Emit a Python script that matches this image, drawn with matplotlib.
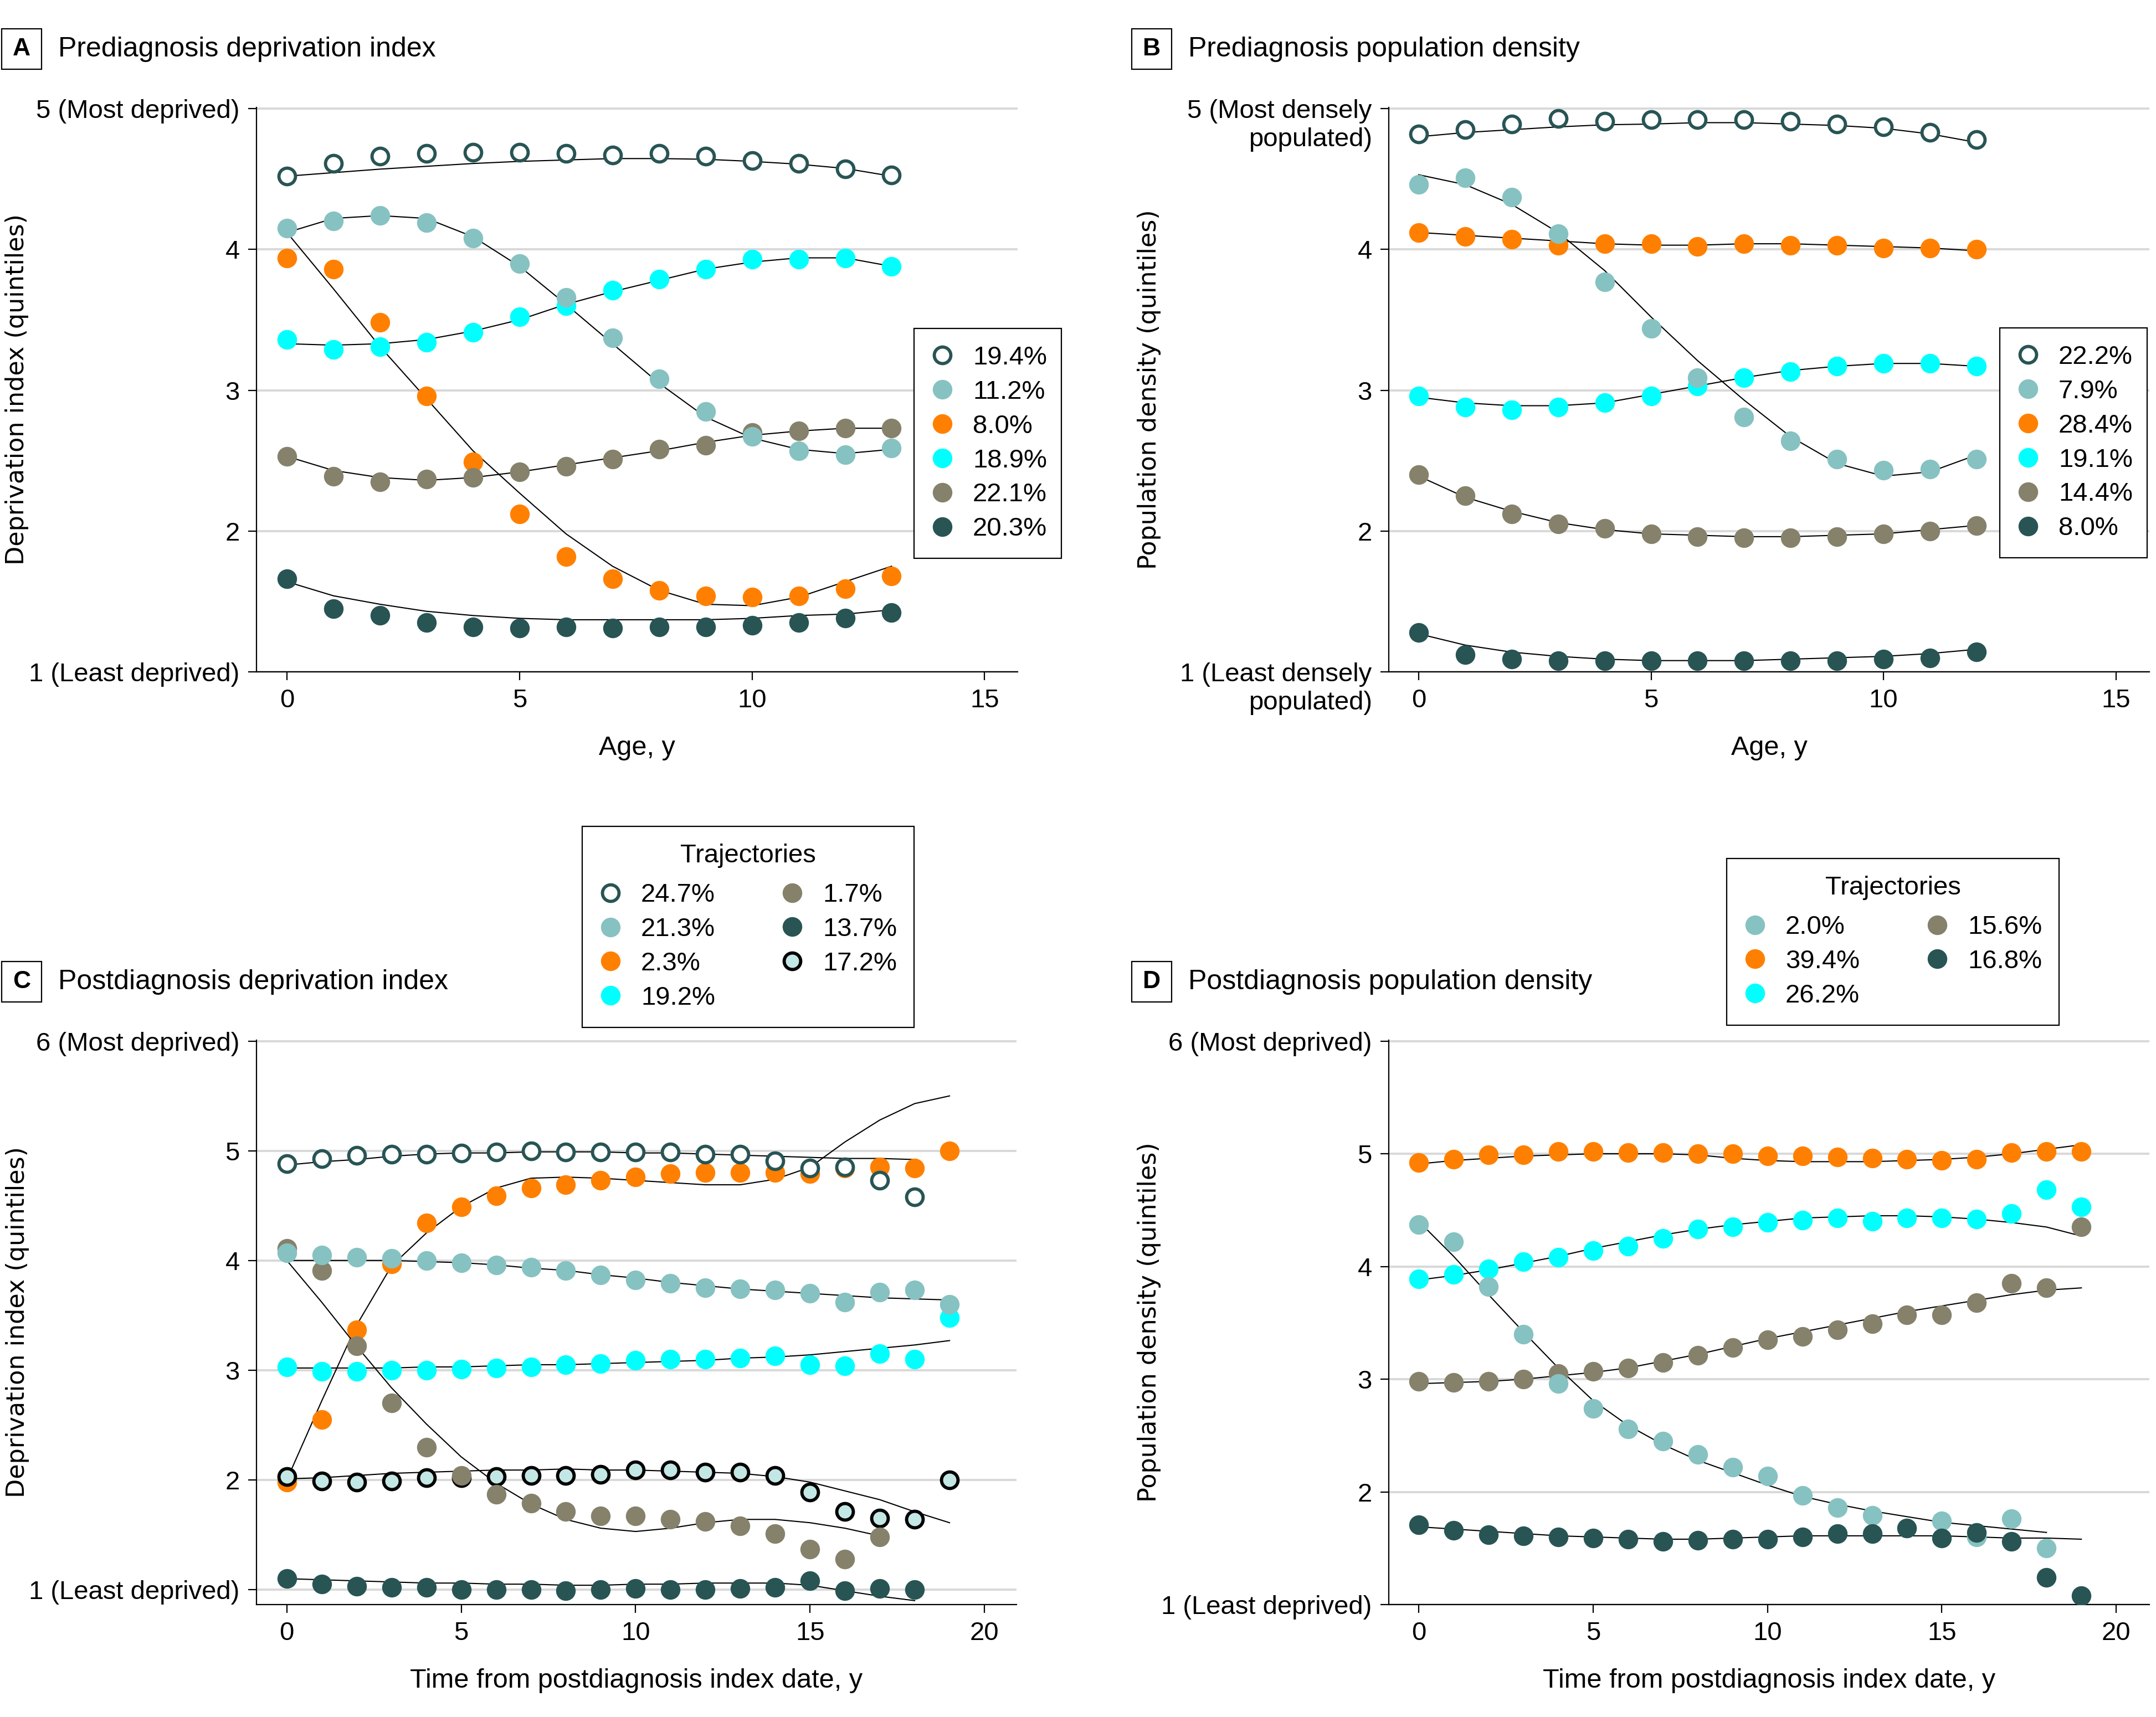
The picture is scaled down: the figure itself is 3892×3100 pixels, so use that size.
import matplotlib
matplotlib.use("Agg")
import matplotlib.pyplot as plt
from matplotlib.patches import Rectangle

# ---------------- data ----------------
A_YEARS = [0, 1, 2, 3, 4, 5, 6, 7, 8, 9, 10, 11, 12, 13]
a_obs_194 = [4.52, 4.61, 4.66, 4.68, 4.69, 4.69, 4.68, 4.67, 4.68, 4.66, 4.63, 4.61, 4.57, 4.53]
a_fit_194 = [4.52, 4.545, 4.57, 4.59, 4.61, 4.625, 4.635, 4.645, 4.645, 4.64, 4.625, 4.605, 4.575, 4.52]
a_obs_112 = [4.15, 4.20, 4.24, 4.19, 4.08, 3.90, 3.66, 3.37, 3.08, 2.85, 2.67, 2.57, 2.54, 2.59]
a_fit_112 = [4.12, 4.22, 4.24, 4.22, 4.09, 3.88, 3.61, 3.33, 3.05, 2.81, 2.66, 2.58, 2.55, 2.58]
a_obs_80 = [3.94, 3.86, 3.48, 2.96, 2.49, 2.12, 1.82, 1.66, 1.58, 1.54, 1.53, 1.54, 1.59, 1.68]
a_fit_80 = [4.12, 3.72, 3.31, 2.94, 2.57, 2.27, 1.98, 1.75, 1.58, 1.48, 1.47, 1.53, 1.64, 1.75]
a_obs_189 = [3.36, 3.29, 3.31, 3.34, 3.41, 3.52, 3.60, 3.71, 3.79, 3.86, 3.93, 3.93, 3.94, 3.88]
a_fit_189 = [3.33, 3.32, 3.33, 3.36, 3.42, 3.50, 3.61, 3.70, 3.78, 3.86, 3.91, 3.94, 3.94, 3.88]
a_obs_221 = [2.53, 2.39, 2.35, 2.37, 2.38, 2.42, 2.46, 2.51, 2.58, 2.61, 2.70, 2.71, 2.73, 2.73]
a_fit_221 = [2.53, 2.43, 2.38, 2.36, 2.38, 2.42, 2.47, 2.52, 2.57, 2.63, 2.68, 2.71, 2.73, 2.73]
a_obs_203 = [1.66, 1.45, 1.40, 1.35, 1.32, 1.31, 1.32, 1.31, 1.32, 1.32, 1.33, 1.35, 1.38, 1.42]
a_fit_203 = [1.64, 1.54, 1.48, 1.43, 1.40, 1.38, 1.37, 1.37, 1.37, 1.37, 1.38, 1.40, 1.41, 1.44]

B_YEARS = [0, 1, 2, 3, 4, 5, 6, 7, 8, 9, 10, 11, 12]
b_obs_222 = [4.82, 4.85, 4.89, 4.93, 4.91, 4.92, 4.92, 4.92, 4.91, 4.89, 4.87, 4.83, 4.78]
b_fit_222 = [4.80, 4.83, 4.85, 4.87, 4.885, 4.89, 4.90, 4.90, 4.89, 4.88, 4.86, 4.82, 4.76]
b_obs_79 = [4.46, 4.51, 4.37, 4.11, 3.77, 3.44, 3.09, 2.81, 2.64, 2.51, 2.43, 2.44, 2.51]
b_fit_79 = [4.53, 4.46, 4.32, 4.12, 3.85, 3.52, 3.21, 2.93, 2.67, 2.48, 2.39, 2.42, 2.54]
b_obs_284 = [4.12, 4.09, 4.07, 4.03, 4.04, 4.04, 4.02, 4.04, 4.03, 4.03, 4.01, 4.01, 4.00]
b_fit_284 = [4.12, 4.10, 4.08, 4.06, 4.04, 4.03, 4.03, 4.04, 4.04, 4.03, 4.02, 4.01, 3.99]
b_obs_191 = [2.96, 2.88, 2.86, 2.88, 2.91, 2.96, 3.03, 3.09, 3.13, 3.17, 3.19, 3.19, 3.17]
b_fit_191 = [2.95, 2.91, 2.89, 2.89, 2.91, 2.97, 3.03, 3.09, 3.14, 3.17, 3.19, 3.19, 3.17]
b_obs_144 = [2.40, 2.25, 2.12, 2.05, 2.02, 1.98, 1.96, 1.95, 1.95, 1.96, 1.98, 2.00, 2.04]
b_fit_144 = [2.39, 2.24, 2.14, 2.06, 2.01, 1.98, 1.97, 1.96, 1.96, 1.97, 1.98, 2.01, 2.04]
b_obs_80 = [1.28, 1.12, 1.09, 1.08, 1.08, 1.08, 1.08, 1.08, 1.08, 1.08, 1.09, 1.10, 1.14]
b_fit_80 = [1.27, 1.19, 1.14, 1.11, 1.09, 1.08, 1.08, 1.08, 1.09, 1.10, 1.11, 1.13, 1.16]

C_YEARS = [0, 1, 2, 3, 4, 5, 6, 7, 8, 9, 10, 11, 12, 13, 14, 15, 16, 17, 18, 19]
c_obs_247 = [4.88, 4.93, 4.96, 4.97, 4.97, 4.98, 4.99, 5.00, 4.99, 4.99, 4.99, 4.99, 4.97, 4.97,
             4.91, 4.84, 4.85, 4.73, 4.58]
c_fit_247 = [4.87, 4.90, 4.92, 4.95, 4.97, 4.98, 4.98, 4.99, 4.99, 4.99, 4.98, 4.98, 4.97, 4.96,
             4.95, 4.94, 4.93, 4.93, 4.92]
c_obs_213 = [4.07, 4.05, 4.03, 4.02, 4.00, 3.98, 3.96, 3.94, 3.91, 3.87, 3.82, 3.79, 3.75, 3.74,
             3.73, 3.70, 3.62, 3.71, 3.73, 3.60]
c_fit_213 = [4.00, 4.00, 4.00, 4.00, 3.99, 3.98, 3.96, 3.93, 3.91, 3.87, 3.84, 3.80, 3.77, 3.74,
             3.72, 3.70, 3.68, 3.66, 3.65, 3.64]
c_obs_23 = [1.98, 2.55, 3.37, 3.97, 4.34, 4.49, 4.59, 4.66, 4.69, 4.73, 4.76, 4.79, 4.80, 4.80,
            4.80, 4.79, 4.84, 4.85, 4.84, 5.00]
c_fit_23 = [2.00, 2.72, 3.41, 3.95, 4.25, 4.49, 4.66, 4.75, 4.76, 4.75, 4.73, 4.71, 4.69, 4.69,
            4.74, 4.85, 5.08, 5.28, 5.43, 5.50]
c_obs_192 = [3.03, 2.99, 2.99, 3.00, 3.00, 3.01, 3.02, 3.03, 3.05, 3.06, 3.09, 3.10, 3.10, 3.11,
             3.13, 3.05, 3.04, 3.15, 3.10, 3.48]
c_fit_192 = [3.02, 3.02, 3.02, 3.02, 3.03, 3.03, 3.04, 3.05, 3.05, 3.06, 3.07, 3.08, 3.09, 3.11,
             3.12, 3.14, 3.17, 3.20, 3.23, 3.27]
c_obs_17 = [4.11, 3.91, 3.22, 2.70, 2.30, 2.04, 1.87, 1.79, 1.71, 1.67, 1.67, 1.64, 1.62, 1.58,
            1.51, 1.37, 1.28, 1.48]
c_fit_17 = [4.00, 3.62, 3.22, 2.84, 2.51, 2.21, 1.97, 1.78, 1.64, 1.56, 1.53, 1.56, 1.61, 1.64,
            1.64, 1.61, 1.56, 1.49]
c_obs_137 = [1.10, 1.05, 1.03, 1.02, 1.02, 1.00, 1.00, 1.00, 0.99, 1.00, 1.01, 1.00, 1.00, 1.01,
             1.02, 1.08, 0.99, 1.01, 1.00]
c_fit_137 = [1.10, 1.09, 1.08, 1.07, 1.06, 1.06, 1.05, 1.05, 1.04, 1.04, 1.05, 1.05, 1.06, 1.06,
             1.06, 1.04, 0.99, 0.94, 0.90]
c_obs_172 = [2.03, 1.99, 1.98, 1.99, 2.02, 2.02, 2.03, 2.04, 2.04, 2.05, 2.09, 2.09, 2.07, 2.07,
             2.04, 1.89, 1.71, 1.65, 1.64, 2.00]
c_fit_172 = [2.01, 2.02, 2.04, 2.06, 2.07, 2.08, 2.09, 2.09, 2.10, 2.09, 2.09, 2.08, 2.07, 2.06,
             2.03, 1.98, 1.90, 1.82, 1.71, 1.61]

D_YEARS = [0, 1, 2, 3, 4, 5, 6, 7, 8, 9, 10, 11, 12, 13, 14, 15, 16, 17, 18, 19]
d_obs_20 = [4.37, 4.22, 3.82, 3.40, 2.96, 2.74, 2.56, 2.45, 2.33, 2.22, 2.14, 1.97, 1.86, 1.79,
            1.68, 1.74, 1.60, 1.76, 1.50]
d_fit_20 = [4.40, 4.09, 3.75, 3.42, 3.10, 2.81, 2.59, 2.42, 2.28, 2.17, 2.06, 1.96, 1.89, 1.83,
            1.78, 1.73, 1.70, 1.67, 1.64]
d_obs_394 = [4.92, 4.95, 4.99, 4.99, 5.02, 5.02, 5.01, 5.01, 5.00, 5.00, 4.98, 4.98, 4.97, 4.96,
             4.95, 4.94, 4.95, 5.01, 5.02, 5.02]
d_fit_394 = [4.91, 4.94, 4.96, 4.98, 4.99, 5.00, 5.00, 5.00, 4.99, 4.96, 4.94, 4.93, 4.93, 4.93,
             4.94, 4.95, 4.97, 5.00, 5.04, 5.08]
d_obs_262 = [3.89, 3.93, 3.98, 4.04, 4.08, 4.14, 4.18, 4.25, 4.33, 4.35, 4.39, 4.41, 4.43, 4.40,
             4.43, 4.43, 4.42, 4.47, 4.68, 4.53]
d_fit_262 = [3.88, 3.92, 3.97, 4.03, 4.09, 4.16, 4.22, 4.28, 4.33, 4.37, 4.40, 4.43, 4.44, 4.45,
             4.45, 4.44, 4.42, 4.39, 4.35, 4.27]
d_obs_156 = [2.98, 2.97, 2.98, 3.00, 3.05, 3.07, 3.10, 3.15, 3.21, 3.28, 3.35, 3.38, 3.44, 3.49,
             3.57, 3.57, 3.68, 3.85, 3.81, 4.35]
d_fit_156 = [2.96, 2.97, 2.98, 3.00, 3.03, 3.06, 3.10, 3.16, 3.22, 3.29, 3.36, 3.42, 3.48, 3.54,
             3.60, 3.65, 3.70, 3.75, 3.79, 3.81]
d_obs_168 = [1.71, 1.66, 1.62, 1.61, 1.60, 1.59, 1.58, 1.56, 1.57, 1.58, 1.58, 1.60, 1.63, 1.63,
             1.68, 1.59, 1.64, 1.56, 1.24, 1.08]
d_fit_168 = [1.69, 1.67, 1.65, 1.63, 1.61, 1.60, 1.59, 1.58, 1.58, 1.59, 1.60, 1.61, 1.61, 1.61,
             1.61, 1.61, 1.60, 1.59, 1.59, 1.58]

# ---------------- styling ----------------
DARK = "#285454"
TEAL = "#86c2c1"
ORANGE = "#ff8000"
CYAN = "#00ffff"
TAUPE = "#85816b"
PALE = "#c3e7e5"
GRID = "#d9d9d9"

# marker style per trajectory type: face, edge, edge width, size, zorder
STYLE = {
    "hollow": dict(mfc="white", mec=DARK, mew=4.2, ms=21.5, zorder=5),
    "pale":   dict(mfc=PALE, mec="black", mew=4.2, ms=21.5, zorder=6),
    "teal":   dict(mfc=TEAL, mec="none", mew=0, ms=25.5, zorder=8),
    "orange": dict(mfc=ORANGE, mec="none", mew=0, ms=25.5, zorder=3),
    "cyan":   dict(mfc=CYAN, mec="none", mew=0, ms=25.5, zorder=4),
    "taupe":  dict(mfc=TAUPE, mec="none", mew=0, ms=25.5, zorder=7),
    "dark":   dict(mfc=DARK, mec="none", mew=0, ms=25.5, zorder=9),
}

W, H = 3892, 3100
plt.rcParams["font.family"] = ["Liberation Sans", "DejaVu Sans"]
TICK_FS = 34
fig = plt.figure(figsize=(W / 100, H / 100), dpi=100)


def fbox(x0, y0, x1, y1):
    # pixel box (left, top, right, bottom) -> figure fraction [l, b, w, h]
    return [x0 / W, 1 - y1 / H, (x1 - x0) / W, (y1 - y0) / H]


def panel(box, years, series, xlim, ylim, yticks, yticklabels, xticks, ylabel, xlabel):
    ax = fig.add_axes(fbox(*box))
    handles = []
    for label, kind, obs, fit in series:
        st = STYLE[kind]
        ax.plot(years[:len(fit)], fit, color="black", lw=1.5, zorder=2)
        h, = ax.plot(years[:len(obs)], obs, ls="none", marker="o", mfc=st["mfc"],
                     mec=st["mec"], mew=st["mew"], ms=st["ms"], zorder=st["zorder"], label=label)
        handles.append(h)
    ax.set_xlim(*xlim)
    ax.set_ylim(*ylim)
    ax.set_xticks(xticks)
    ax.set_yticks(yticks, yticklabels)
    ax.set_axisbelow(True)
    ax.yaxis.grid(True, color=GRID, lw=2.9)
    for s in ["top", "right"]:
        ax.spines[s].set_visible(False)
    for s in ["left", "bottom"]:
        ax.spines[s].set_linewidth(1.6)
    ax.tick_params(direction="out", length=10.8, width=1.6, labelsize=TICK_FS, pad=11)
    ax.set_ylabel(ylabel, family="DejaVu Sans", fontsize=32)
    ax.yaxis.set_label_coords(-0.299, 0.5)
    ax.set_xlabel(xlabel, fontsize=35)
    ax.xaxis.set_label_coords(0.5, -0.113)
    return ax, handles


def legend(ax, handles, box, ncol=1, title=None):
    x0, y0, x1 = box
    leg = ax.legend(handles=handles, loc="upper left", ncol=ncol, title=title,
                    bbox_to_anchor=(x0 / W, 1 - y0 / H, (x1 - x0) / W, 0),
                    bbox_transform=fig.transFigure, mode="expand", borderaxespad=0,
                    fontsize=TICK_FS, title_fontsize=TICK_FS, frameon=True, fancybox=False,
                    framealpha=1, edgecolor="black", borderpad=0.65, handlelength=0.86,
                    handletextpad=0.735, labelspacing=0.38, columnspacing=2.5, numpoints=1)
    leg.get_frame().set_linewidth(1.6)
    leg.set_zorder(20)
    if title is not None:
        # a little more room between the title and the first row
        leg._legend_box.sep = (0.38 + 0.2) * TICK_FS
    return leg


def heading(letter, text, x_box, y_top):
    fig.add_artist(Rectangle((x_box / W, 1 - (y_top + 73) / H), 72 / W, 73 / H,
                             transform=fig.transFigure, facecolor="white",
                             edgecolor="black", lw=1.6))
    fig.text((x_box + 36) / W, 1 - (y_top + 37) / H, letter, ha="center", va="center",
             fontsize=32, fontweight="bold")
    fig.text((x_box + 102) / W, 1 - (y_top + 37) / H, text, ha="left", va="center",
             fontsize=36)


# ---------------- A ----------------
ax_a, h_a = panel(
    (463, 194, 1837, 1213), A_YEARS,
    [("19.4%", "hollow", a_obs_194, a_fit_194),
     ("11.2%", "teal", a_obs_112, a_fit_112),
     ("8.0%", "orange", a_obs_80, a_fit_80),
     ("18.9%", "cyan", a_obs_189, a_fit_189),
     ("22.1%", "taupe", a_obs_221, a_fit_221),
     ("20.3%", "dark", a_obs_203, a_fit_203)],
    (-0.655, 15.71), (1, 5.008), [1, 2, 3, 4, 5],
    ["1 (Least deprived)", "2", "3", "4", "5 (Most deprived)"], [0, 5, 10, 15],
    "Deprivation index (quintiles)", "Age, y")
legend(ax_a, h_a, (1650, 593, 1916))
heading("A", "Prediagnosis deprivation index", 3, 52)

# ---------------- B ----------------
ax_b, h_b = panel(
    (2507, 194, 3880, 1213), B_YEARS,
    [("22.2%", "hollow", b_obs_222, b_fit_222),
     ("7.9%", "teal", b_obs_79, b_fit_79),
     ("28.4%", "orange", b_obs_284, b_fit_284),
     ("19.1%", "cyan", b_obs_191, b_fit_191),
     ("14.4%", "taupe", b_obs_144, b_fit_144),
     ("8.0%", "dark", b_obs_80, b_fit_80)],
    (-0.644, 15.72), (1, 5.008), [1, 2, 3, 4, 5],
    ["1 (Least densely", "2", "3", "4", "5 (Most densely"], [0, 5, 10, 15],
    "Population density (quintiles)", "Age, y")
for yv in [5, 1]:
    ax_b.annotate("populated)", xy=(0, yv), xycoords=("axes fraction", "data"),
                  xytext=(-21.8, -40), textcoords="offset points", ha="right", va="center",
                  fontsize=TICK_FS, annotation_clip=False)
legend(ax_b, h_b, (3610, 592, 3876))
heading("B", "Prediagnosis population density", 2043, 52)

# ---------------- C ----------------
ax_c, h_c = panel(
    (463, 1878, 1835, 2897), C_YEARS,
    [("24.7%", "hollow", c_obs_247, c_fit_247),
     ("21.3%", "teal", c_obs_213, c_fit_213),
     ("2.3%", "orange", c_obs_23, c_fit_23),
     ("19.2%", "cyan", c_obs_192, c_fit_192),
     ("1.7%", "taupe", c_obs_17, c_fit_17),
     ("13.7%", "dark", c_obs_137, c_fit_137),
     ("17.2%", "pale", c_obs_172, c_fit_172)],
    (-0.87, 20.92), (0.864, 6.008), [1, 2, 3, 4, 5, 6],
    ["1 (Least deprived)", "2", "3", "4", "5", "6 (Most deprived)"], [0, 5, 10, 15, 20],
    "Deprivation index (quintiles)", "Time from postdiagnosis index date, y")
legend(ax_c, h_c, (1051, 1492, 1650), ncol=2, title="Trajectories")
heading("C", "Postdiagnosis deprivation index", 3, 1736)

# ---------------- D ----------------
ax_d, h_d = panel(
    (2507, 1878, 3880, 2897), D_YEARS,
    [("2.0%", "teal", d_obs_20, d_fit_20),
     ("39.4%", "orange", d_obs_394, d_fit_394),
     ("26.2%", "cyan", d_obs_262, d_fit_262),
     ("15.6%", "taupe", d_obs_156, d_fit_156),
     ("16.8%", "dark", d_obs_168, d_fit_168)],
    (-0.86, 20.95), (1, 6.008), [1, 2, 3, 4, 5, 6],
    ["1 (Least deprived)", "2", "3", "4", "5", "6 (Most deprived)"], [0, 5, 10, 15, 20],
    "Population density (quintiles)", "Time from postdiagnosis index date, y")
legend(ax_d, h_d, (3117, 1550, 3717), ncol=2, title="Trajectories")
heading("D", "Postdiagnosis population density", 2043, 1736)

fig.savefig("out.png", dpi=100)
